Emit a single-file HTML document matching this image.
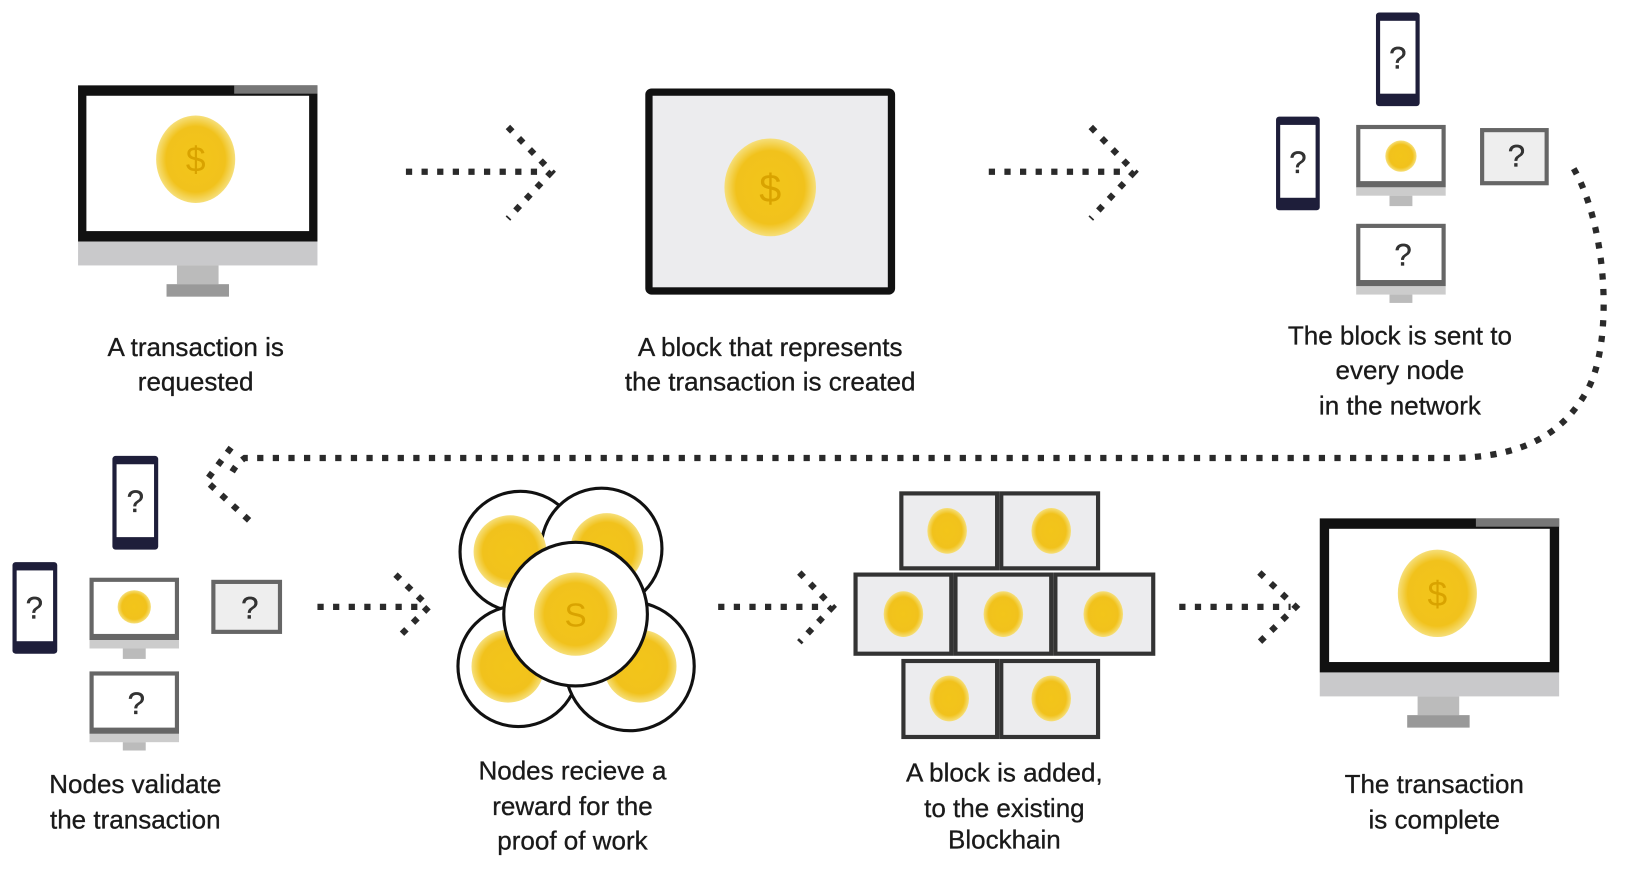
<!DOCTYPE html>
<html><head><meta charset="utf-8"><style>
html,body{margin:0;padding:0;background:#fff;width:1632px;height:890px;overflow:hidden}
svg{display:block}
text{font-family:"Liberation Sans",sans-serif;fill:#1a1a1a;font-size:25px;text-anchor:middle;stroke:#1a1a1a;stroke-width:0.3}
.q{font-size:30px;fill:#333}
.dot{stroke:#2a2a2a;stroke-width:6;stroke-dasharray:6 9;fill:none}
</style></head><body>
<svg width="1632" height="890" viewBox="0 0 1568 855" preserveAspectRatio="none">
<defs>
<radialGradient id="cg" cx="50%" cy="50%" r="50%">
<stop offset="0" stop-color="#f3c51a"/><stop offset="0.75" stop-color="#f1c21c"/><stop offset="1" stop-color="#f6df7a"/>
</radialGradient>
</defs>

<rect x="75" y="82" width="230" height="150" fill="#111"/>
<rect x="225" y="82" width="80" height="8" fill="#777"/>
<rect x="83" y="92" width="214" height="130" fill="#fff"/>
<rect x="75" y="232" width="230" height="23" fill="#c9c9cb"/>
<rect x="170" y="255" width="40" height="18" fill="#bbb"/>
<rect x="160" y="273" width="60" height="12" fill="#999"/>
<ellipse cx="188" cy="153" rx="38" ry="42" fill="url(#cg)"/>
<text x="188" y="165" style="font-size:34px;fill:#d9a300;stroke:none">$</text>
<text x="188" y="342">A transaction is</text>
<text x="188" y="375">requested</text>

<line class="dot" x1="390" y1="165" x2="525" y2="165"/>
<polyline class="dot" points="488,122 530,165 488,210"/>

<rect x="620" y="85" width="240" height="198" rx="6" fill="#111"/>
<rect x="627" y="92" width="226" height="184" fill="#ececee"/>
<ellipse cx="740" cy="180" rx="44" ry="47" fill="url(#cg)"/>
<text x="740" y="194" style="font-size:38px;fill:#d9a300;stroke:none">$</text>
<text x="740" y="342">A block that represents</text>
<text x="740" y="375">the transaction is created</text>

<line class="dot" x1="950" y1="165" x2="1085" y2="165"/>
<polyline class="dot" points="1048,122 1090,165 1048,210"/>

<rect x="1322" y="12" width="42" height="90" rx="3" fill="#1e1e3a"/>
<rect x="1326" y="20" width="34" height="70" fill="#fff"/>
<text class="q" x="1343" y="66">?</text>
<rect x="1226" y="112" width="42" height="90" rx="3" fill="#1e1e3a"/>
<rect x="1230" y="120" width="34" height="70" fill="#fff"/>
<text class="q" x="1247" y="166">?</text>
<rect x="1303" y="120" width="86" height="60" fill="#666"/>
<rect x="1307" y="124" width="78" height="50" fill="#fff"/>
<rect x="1303" y="180" width="86" height="8" fill="#ccc"/>
<rect x="1335" y="188" width="22" height="10" fill="#bbb"/>
<circle cx="1346" cy="150" r="15" fill="url(#cg)"/>
<rect x="1422" y="123" width="66" height="55" fill="#666"/>
<rect x="1426" y="127" width="58" height="47" fill="#eee"/>
<text class="q" x="1457" y="160">?</text>
<rect x="1303" y="215" width="86" height="60" fill="#666"/>
<rect x="1307" y="219" width="78" height="50" fill="#fff"/>
<rect x="1303" y="275" width="86" height="8" fill="#ccc"/>
<rect x="1335" y="283" width="22" height="8" fill="#bbb"/>
<text class="q" x="1348" y="255">?</text>
<text x="1345" y="331">The block is sent to</text>
<text x="1345" y="364">every node</text>
<text x="1345" y="398">in the network</text>

<path class="dot" d="M1512,162 C1545,220 1550,330 1525,375 C1500,420 1460,438 1400,440 L235,440 C228,445 225,450 222,455"/>
<polyline class="dot" points="222,430 198,462 245,505"/>

<rect x="108" y="438" width="44" height="90" rx="3" fill="#1e1e3a"/>
<rect x="112" y="446" width="36" height="70" fill="#fff"/>
<text class="q" x="130" y="492">?</text>
<rect x="12" y="540" width="43" height="88" rx="3" fill="#1e1e3a"/>
<rect x="16" y="548" width="35" height="68" fill="#fff"/>
<text class="q" x="33" y="594">?</text>
<rect x="86" y="555" width="86" height="60" fill="#666"/>
<rect x="90" y="559" width="78" height="50" fill="#fff"/>
<rect x="86" y="615" width="86" height="8" fill="#ccc"/>
<rect x="118" y="623" width="22" height="10" fill="#bbb"/>
<circle cx="129" cy="583" r="16" fill="url(#cg)"/>
<rect x="203" y="557" width="68" height="52" fill="#666"/>
<rect x="207" y="561" width="60" height="44" fill="#eee"/>
<text class="q" x="240" y="594">?</text>
<rect x="86" y="645" width="86" height="60" fill="#666"/>
<rect x="90" y="649" width="78" height="50" fill="#fff"/>
<rect x="86" y="705" width="86" height="8" fill="#ccc"/>
<rect x="118" y="713" width="22" height="8" fill="#bbb"/>
<text class="q" x="131" y="686">?</text>
<text x="130" y="762">Nodes validate</text>
<text x="130" y="796">the transaction</text>

<line class="dot" x1="305" y1="583" x2="408" y2="583"/>
<polyline class="dot" points="380,552 412,583 380,615"/>

<g stroke="#111" stroke-width="3" fill="#fff">
<circle cx="500" cy="530" r="58"/>
<circle cx="578" cy="527" r="58"/>
<circle cx="498" cy="640" r="58"/>
<circle cx="605" cy="640" r="62"/>
</g>
<circle cx="490" cy="530" r="35" fill="url(#cg)"/>
<circle cx="583" cy="528" r="35" fill="url(#cg)"/>
<circle cx="488" cy="640" r="35" fill="url(#cg)"/>
<circle cx="615" cy="640" r="35" fill="url(#cg)"/>
<circle cx="553" cy="590" r="69" fill="#fff" stroke="#111" stroke-width="3"/>
<circle cx="553" cy="590" r="40" fill="url(#cg)"/>
<text x="553" y="602" style="font-size:32px;fill:#d9a300;stroke:none">S</text>
<text x="550" y="749">Nodes recieve a</text>
<text x="550" y="783">reward for the</text>
<text x="550" y="816">proof of work</text>

<line class="dot" x1="690" y1="583" x2="795" y2="583"/>
<polyline class="dot" points="768,550 800,583 768,617"/>

<g fill="#ececee" stroke="#333" stroke-width="4">
<rect x="866" y="474" width="92" height="72"/>
<rect x="962" y="474" width="93" height="72"/>
<rect x="822" y="552" width="92" height="76"/>
<rect x="918" y="552" width="92" height="76"/>
<rect x="1014" y="552" width="94" height="76"/>
<rect x="868" y="635" width="90" height="73"/>
<rect x="962" y="635" width="93" height="73"/>
</g>
<g fill="url(#cg)">
<ellipse cx="910" cy="510" rx="19" ry="22"/>
<ellipse cx="1010" cy="510" rx="19" ry="22"/>
<ellipse cx="868" cy="590" rx="19" ry="22"/>
<ellipse cx="964" cy="590" rx="19" ry="22"/>
<ellipse cx="1060" cy="590" rx="19" ry="22"/>
<ellipse cx="912" cy="671" rx="19" ry="22"/>
<ellipse cx="1010" cy="671" rx="19" ry="22"/>
</g>
<text x="965" y="751">A block is added,</text>
<text x="965" y="785">to the existing</text>
<text x="965" y="815">Blockhain</text>

<line class="dot" x1="1133" y1="583" x2="1240" y2="583"/>
<polyline class="dot" points="1210,550 1245,583 1210,617"/>

<rect x="1268" y="498" width="230" height="148" fill="#111"/>
<rect x="1418" y="498" width="80" height="8" fill="#777"/>
<rect x="1277" y="508" width="212" height="128" fill="#fff"/>
<rect x="1268" y="646" width="230" height="23" fill="#c9c9cb"/>
<rect x="1362" y="669" width="40" height="18" fill="#bbb"/>
<rect x="1352" y="687" width="60" height="12" fill="#999"/>
<ellipse cx="1381" cy="570" rx="38" ry="42" fill="url(#cg)"/>
<text x="1381" y="582" style="font-size:34px;fill:#d9a300;stroke:none">$</text>
<text x="1378" y="762">The transaction</text>
<text x="1378" y="796">is complete</text>
</svg>
</body></html>
